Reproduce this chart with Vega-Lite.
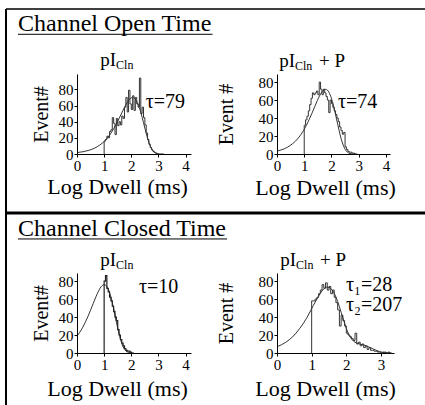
{
  "$schema": "https://vega.github.io/schema/vega-lite/v6.json",
  "padding": {"left": 4, "top": 8, "right": 0, "bottom": 0},
  "background": "white",
  "config": {
    "view": {"stroke": null},
    "font": "Liberation Serif",
    "axis": {"grid": false, "domainColor": "#000", "tickColor": "#000", "labelColor": "#000", "titleColor": "#000", "labelFont": "Liberation Serif", "titleFont": "Liberation Serif", "labelFontSize": 15, "titleFontSize": 21, "titleFontWeight": "normal", "tickSize": 3, "domainWidth": 1, "labelPadding": 1, "labelOverlap": false, "labelBound": false, "tickCount": 12, "format": "d"},
    "text": {"font": "Liberation Serif", "color": "#000"}
  },
  "datasets": {
    "tl_hist": [{"x":1.0,"n":0},{"x":1.0,"n":16},{"x":1.05,"n":18},{"x":1.1,"n":22},{"x":1.15,"n":20},{"x":1.2,"n":28},{"x":1.25,"n":30},{"x":1.3,"n":45},{"x":1.35,"n":38},{"x":1.4,"n":24},{"x":1.45,"n":44},{"x":1.5,"n":35},{"x":1.55,"n":40},{"x":1.6,"n":36},{"x":1.65,"n":47},{"x":1.7,"n":44},{"x":1.75,"n":58},{"x":1.8,"n":70},{"x":1.85,"n":52},{"x":1.9,"n":79},{"x":1.95,"n":62},{"x":2.0,"n":55},{"x":2.05,"n":72},{"x":2.1,"n":54},{"x":2.15,"n":70},{"x":2.2,"n":62},{"x":2.25,"n":58},{"x":2.3,"n":94},{"x":2.35,"n":50},{"x":2.4,"n":58},{"x":2.45,"n":45},{"x":2.5,"n":36},{"x":2.55,"n":26},{"x":2.6,"n":18},{"x":2.65,"n":12},{"x":2.7,"n":8},{"x":2.75,"n":5},{"x":2.8,"n":3},{"x":2.85,"n":2},{"x":2.9,"n":1},{"x":2.95,"n":0},{"x":3.0,"n":0}],
    "tl_fit": [{"x":0,"n":1.7},{"x":0.25,"n":3.0},{"x":0.45,"n":4.7},{"x":0.65,"n":7.3},{"x":0.85,"n":11.3},{"x":1.05,"n":17.2},{"x":1.25,"n":25.7},{"x":1.45,"n":37.2},{"x":1.65,"n":50.9},{"x":1.75,"n":57.8},{"x":1.85,"n":63.8},{"x":1.95,"n":68.3},{"x":2.05,"n":70},{"x":2.15,"n":68},{"x":2.25,"n":61.8},{"x":2.35,"n":51.7},{"x":2.45,"n":38.8},{"x":2.55,"n":25.5},{"x":2.65,"n":14.1},{"x":2.75,"n":6.3},{"x":2.85,"n":2.2},{"x":2.95,"n":0.5},{"x":3.05,"n":0.1},{"x":3.2,"n":0}],
    "tr_hist": [{"x":1.0,"n":0},{"x":1.0,"n":32},{"x":1.05,"n":38},{"x":1.1,"n":42},{"x":1.15,"n":48},{"x":1.2,"n":55},{"x":1.25,"n":62},{"x":1.3,"n":68},{"x":1.35,"n":66},{"x":1.4,"n":68},{"x":1.45,"n":70},{"x":1.5,"n":66},{"x":1.55,"n":80},{"x":1.6,"n":72},{"x":1.65,"n":66},{"x":1.7,"n":72},{"x":1.75,"n":68},{"x":1.8,"n":64},{"x":1.85,"n":60},{"x":1.9,"n":46},{"x":1.95,"n":60},{"x":2.0,"n":56},{"x":2.05,"n":52},{"x":2.1,"n":48},{"x":2.15,"n":44},{"x":2.2,"n":40},{"x":2.25,"n":36},{"x":2.3,"n":30},{"x":2.35,"n":26},{"x":2.4,"n":22},{"x":2.45,"n":24},{"x":2.5,"n":8},{"x":2.55,"n":5},{"x":2.6,"n":3},{"x":2.65,"n":2},{"x":2.7,"n":2},{"x":2.75,"n":1},{"x":2.8,"n":1},{"x":2.85,"n":0},{"x":2.9,"n":0}],
    "tr_fit": [{"x":0,"n":3.2},{"x":0.18,"n":4.8},{"x":0.38,"n":7.5},{"x":0.58,"n":11.6},{"x":0.78,"n":17.7},{"x":0.98,"n":26.4},{"x":1.18,"n":38.2},{"x":1.38,"n":52.3},{"x":1.48,"n":59.4},{"x":1.58,"n":65.7},{"x":1.68,"n":70.3},{"x":1.78,"n":72},{"x":1.88,"n":70},{"x":1.98,"n":63.6},{"x":2.08,"n":53.1},{"x":2.18,"n":39.9},{"x":2.28,"n":26.2},{"x":2.38,"n":14.5},{"x":2.48,"n":6.5},{"x":2.58,"n":2.2},{"x":2.68,"n":0.6},{"x":2.78,"n":0.1},{"x":2.95,"n":0}],
    "bl_hist": [{"x":1.0,"n":0},{"x":1.0,"n":80},{"x":1.05,"n":86},{"x":1.1,"n":72},{"x":1.15,"n":68},{"x":1.2,"n":62},{"x":1.25,"n":58},{"x":1.3,"n":52},{"x":1.35,"n":46},{"x":1.4,"n":40},{"x":1.45,"n":36},{"x":1.5,"n":26},{"x":1.55,"n":20},{"x":1.6,"n":15},{"x":1.65,"n":11},{"x":1.7,"n":8},{"x":1.75,"n":5},{"x":1.8,"n":3},{"x":1.85,"n":2},{"x":1.9,"n":2},{"x":1.95,"n":1},{"x":2.0,"n":0},{"x":2.05,"n":0}],
    "bl_fit": [{"x":0,"n":18.7},{"x":0.2,"n":27.9},{"x":0.4,"n":40.4},{"x":0.6,"n":55.3},{"x":0.7,"n":62.7},{"x":0.8,"n":69.3},{"x":0.9,"n":74.2},{"x":1.0,"n":76},{"x":1.1,"n":73.9},{"x":1.2,"n":67.1},{"x":1.3,"n":56.1},{"x":1.4,"n":42.1},{"x":1.5,"n":27.7},{"x":1.6,"n":15.4},{"x":1.7,"n":6.9},{"x":1.8,"n":2.4},{"x":1.9,"n":0.6},{"x":2.0,"n":0.1},{"x":2.1,"n":0}],
    "br_hist": [{"x":1.0,"n":0},{"x":1.0,"n":58},{"x":1.05,"n":58},{"x":1.1,"n":60},{"x":1.15,"n":62},{"x":1.2,"n":66},{"x":1.25,"n":70},{"x":1.3,"n":76},{"x":1.35,"n":72},{"x":1.4,"n":78},{"x":1.45,"n":70},{"x":1.5,"n":74},{"x":1.55,"n":66},{"x":1.6,"n":70},{"x":1.65,"n":62},{"x":1.7,"n":56},{"x":1.75,"n":48},{"x":1.8,"n":30},{"x":1.85,"n":42},{"x":1.9,"n":36},{"x":1.95,"n":30},{"x":2.0,"n":22},{"x":2.05,"n":20},{"x":2.1,"n":18},{"x":2.15,"n":16},{"x":2.2,"n":14},{"x":2.25,"n":22},{"x":2.3,"n":10},{"x":2.35,"n":12},{"x":2.4,"n":8},{"x":2.45,"n":10},{"x":2.5,"n":6},{"x":2.55,"n":8},{"x":2.6,"n":4},{"x":2.65,"n":6},{"x":2.7,"n":3},{"x":2.75,"n":3},{"x":2.8,"n":2},{"x":2.85,"n":2},{"x":2.9,"n":1},{"x":2.95,"n":1},{"x":3.0,"n":0},{"x":3.05,"n":1},{"x":3.1,"n":1},{"x":3.15,"n":0},{"x":3.2,"n":1},{"x":3.25,"n":0},{"x":3.3,"n":0}],
    "br_fit": [{"x":0,"n":7},{"x":0.25,"n":11.8},{"x":0.45,"n":18},{"x":0.65,"n":27},{"x":0.85,"n":38.5},{"x":1.05,"n":53},{"x":1.15,"n":60},{"x":1.25,"n":66.4},{"x":1.35,"n":71.3},{"x":1.45,"n":73.3},{"x":1.55,"n":71.9},{"x":1.65,"n":66.4},{"x":1.75,"n":57.3},{"x":1.85,"n":45.2},{"x":1.95,"n":33.1},{"x":2.05,"n":22.5},{"x":2.15,"n":15.6},{"x":2.25,"n":12},{"x":2.35,"n":10.5},{"x":2.45,"n":9.3},{"x":2.55,"n":8.4},{"x":2.65,"n":6.6},{"x":2.75,"n":5},{"x":2.85,"n":3.2},{"x":2.95,"n":1.6},{"x":3.05,"n":0.7},{"x":3.15,"n":0.24},{"x":3.3,"n":0}]
  },
  "columns": 2,
  "spacing": {"row": 0, "column": 86},
  "bounds": "flush",
  "concat": [
    {
      "width": 114, "height": 65,
      "data": {"values": [{"section": "Channel Open Time"}]},
      "layer": [
        {"mark": {"type": "rule", "color": "#000", "strokeWidth": 1.5}, "encoding": {"x": {"datum": -62.3, "type": "quantitative", "scale": {"domain": [0, 100]}, "axis": null}, "x2": {"datum": 306.1}, "y": {"datum": 1, "type": "quantitative", "scale": {"domain": [0, 1]}, "axis": null}}},
        {"mark": {"type": "rule", "color": "#000", "strokeWidth": 2}, "encoding": {"x": {"datum": -62.3, "type": "quantitative"}}},
        {"mark": {"type": "text", "align": "left", "baseline": "alphabetic", "fontSize": 24}, "encoding": {"x": {"datum": -51.75, "type": "quantitative"}, "y": {"datum": 0.6615, "type": "quantitative"}, "text": {"field": "section"}}},
        {"mark": {"type": "rule", "color": "#000", "strokeWidth": 1}, "encoding": {"x": {"datum": -51.75, "type": "quantitative"}, "x2": {"datum": 118.9}, "y": {"datum": 0.611, "type": "quantitative"}}}
      ]
    },
    {"width": 113, "height": 65, "data": {"values": []}, "mark": "point"},
    {
      "width": 114, "height": 80,
      "layer": [
        {"data": {"name": "tl_fit"}, "mark": {"type": "line", "interpolate": "monotone", "color": "#000", "strokeWidth": 0.8},
         "encoding": {
           "x": {"field": "x", "type": "quantitative", "scale": {"domain": [0, 4.2], "nice": false}, "axis": {"values": [0,1,2,3,4], "tickCount": 12, "format": "d", "title": "Log Dwell (ms)", "labelFlush": false, "labelOverlap": false, "titlePadding": 3, "titleFontSize": 22, "titleX": 40}},
           "y": {"field": "n", "type": "quantitative", "scale": {"domain": [0, 99], "nice": false}, "axis": {"values": [0,20,40,60,80], "tickCount": 12, "format": "d", "title": "Event#", "labelOverlap": false, "titlePadding": 7, "titleFontSize": 20}}
         }},
        {"data": {"name": "tl_hist"}, "mark": {"type": "line", "interpolate": "step-after", "color": "#333", "strokeWidth": 1}, "encoding": {"x": {"field": "x", "type": "quantitative"}, "y": {"field": "n", "type": "quantitative"}}},
        {"data": {"values": [{}]}, "mark": {"type": "rule", "color": "#000", "strokeWidth": 2}, "encoding": {"x": {"datum": -2.616, "type": "quantitative"}}},
        {"data": {"values": [{"t": "τ=79"}]}, "mark": {"type": "text", "align": "left", "baseline": "alphabetic", "fontSize": 20}, "encoding": {"x": {"datum": 2.53, "type": "quantitative"}, "y": {"datum": 57, "type": "quantitative"}, "text": {"field": "t"}}},
        {"data": {"values": [{"t": "pI"}]}, "mark": {"type": "text", "align": "right", "baseline": "alphabetic", "fontSize": 19}, "encoding": {"x": {"datum": 1.44, "type": "quantitative"}, "y": {"datum": 109, "type": "quantitative"}, "text": {"field": "t"}}},
        {"data": {"values": [{"t": "Cln"}]}, "mark": {"type": "text", "align": "left", "baseline": "alphabetic", "fontSize": 12}, "encoding": {"x": {"datum": 1.44, "type": "quantitative"}, "y": {"datum": 105, "type": "quantitative"}, "text": {"field": "t"}}}
      ]
    },
    {
      "width": 113, "height": 80,
      "layer": [
        {"data": {"name": "tr_fit"}, "mark": {"type": "line", "interpolate": "monotone", "color": "#000", "strokeWidth": 0.8},
         "encoding": {
           "x": {"field": "x", "type": "quantitative", "scale": {"domain": [0, 4.15], "nice": false}, "axis": {"values": [0,1,2,3,4], "tickCount": 12, "format": "d", "title": "Log Dwell (ms)", "labelFlush": false, "labelOverlap": false, "titlePadding": 4, "titleFontSize": 22, "titleX": 48}},
           "y": {"field": "n", "type": "quantitative", "scale": {"domain": [0, 89], "nice": false}, "axis": {"values": [0,20,40,60,80], "tickCount": 12, "format": "d", "title": "Event #", "labelOverlap": false, "titlePadding": 22, "titleFontSize": 20}}
         }},
        {"data": {"name": "tr_hist"}, "mark": {"type": "line", "interpolate": "step-after", "color": "#333", "strokeWidth": 1}, "encoding": {"x": {"field": "x", "type": "quantitative"}, "y": {"field": "n", "type": "quantitative"}}},
        {"data": {"values": [{"t": "τ=74"}]}, "mark": {"type": "text", "align": "left", "baseline": "alphabetic", "fontSize": 20}, "encoding": {"x": {"datum": 2.24, "type": "quantitative"}, "y": {"datum": 51, "type": "quantitative"}, "text": {"field": "t"}}},
        {"data": {"values": [{"t": "pI"}]}, "mark": {"type": "text", "align": "right", "baseline": "alphabetic", "fontSize": 19}, "encoding": {"x": {"datum": 0.66, "type": "quantitative"}, "y": {"datum": 96.8, "type": "quantitative"}, "text": {"field": "t"}}},
        {"data": {"values": [{"t": "Cln"}]}, "mark": {"type": "text", "align": "left", "baseline": "alphabetic", "fontSize": 12}, "encoding": {"x": {"datum": 0.66, "type": "quantitative"}, "y": {"datum": 93.4, "type": "quantitative"}, "text": {"field": "t"}}},
        {"data": {"values": [{"t": "+  P"}]}, "mark": {"type": "text", "align": "left", "baseline": "alphabetic", "fontSize": 19}, "encoding": {"x": {"datum": 1.54, "type": "quantitative"}, "y": {"datum": 96.8, "type": "quantitative"}, "text": {"field": "t"}}}
      ]
    },
    {
      "width": 114, "height": 119,
      "data": {"values": [{"section": "Channel Closed Time"}]},
      "layer": [
        {"mark": {"type": "rule", "color": "#000", "strokeWidth": 3}, "encoding": {"x": {"datum": -62.3, "type": "quantitative", "scale": {"domain": [0, 100]}, "axis": null}, "x2": {"datum": 306.1}, "y": {"datum": 0.504, "type": "quantitative", "scale": {"domain": [0, 1]}, "axis": null}}},
        {"mark": {"type": "rule", "color": "#000", "strokeWidth": 2}, "encoding": {"x": {"datum": -62.3, "type": "quantitative"}}},
        {"mark": {"type": "text", "align": "left", "baseline": "alphabetic", "fontSize": 24}, "encoding": {"x": {"datum": -51.75, "type": "quantitative"}, "y": {"datum": 0.311, "type": "quantitative"}, "text": {"field": "section"}}},
        {"mark": {"type": "rule", "color": "#000", "strokeWidth": 1}, "encoding": {"x": {"datum": -51.75, "type": "quantitative"}, "x2": {"datum": 131.6}, "y": {"datum": 0.286, "type": "quantitative"}}}
      ]
    },
    {"width": 113, "height": 119, "data": {"values": []}, "mark": "point"},
    {
      "width": 114, "height": 80,
      "layer": [
        {"data": {"name": "bl_fit"}, "mark": {"type": "line", "interpolate": "monotone", "color": "#000", "strokeWidth": 0.8},
         "encoding": {
           "x": {"field": "x", "type": "quantitative", "scale": {"domain": [0, 4.2], "nice": false}, "axis": {"values": [0,1,2,3,4], "tickCount": 12, "format": "d", "title": "Log Dwell (ms)", "labelFlush": false, "labelOverlap": false, "titlePadding": 6, "titleFontSize": 22, "titleX": 40}},
           "y": {"field": "n", "type": "quantitative", "scale": {"domain": [0, 89], "nice": false}, "axis": {"values": [0,20,40,60,80], "tickCount": 12, "format": "d", "title": "Event#", "labelOverlap": false, "titlePadding": 7, "titleFontSize": 20}}
         }},
        {"data": {"name": "bl_hist"}, "mark": {"type": "line", "interpolate": "step-after", "color": "#222", "strokeWidth": 1.2}, "encoding": {"x": {"field": "x", "type": "quantitative"}, "y": {"field": "n", "type": "quantitative"}}},
        {"data": {"values": [{}]}, "mark": {"type": "rule", "color": "#000", "strokeWidth": 2}, "encoding": {"x": {"datum": -2.616, "type": "quantitative"}, "y": {"datum": -62, "type": "quantitative"}, "y2": {"datum": 89}}},
        {"data": {"values": [{"t": "τ=10"}]}, "mark": {"type": "text", "align": "left", "baseline": "alphabetic", "fontSize": 20}, "encoding": {"x": {"datum": 2.28, "type": "quantitative"}, "y": {"datum": 66.7, "type": "quantitative"}, "text": {"field": "t"}}},
        {"data": {"values": [{"t": "pI"}]}, "mark": {"type": "text", "align": "right", "baseline": "alphabetic", "fontSize": 19}, "encoding": {"x": {"datum": 1.44, "type": "quantitative"}, "y": {"datum": 96.7, "type": "quantitative"}, "text": {"field": "t"}}},
        {"data": {"values": [{"t": "Cln"}]}, "mark": {"type": "text", "align": "left", "baseline": "alphabetic", "fontSize": 12}, "encoding": {"x": {"datum": 1.44, "type": "quantitative"}, "y": {"datum": 93.3, "type": "quantitative"}, "text": {"field": "t"}}}
      ]
    },
    {
      "width": 117, "height": 80,
      "layer": [
        {"data": {"name": "br_fit"}, "mark": {"type": "line", "interpolate": "monotone", "color": "#000", "strokeWidth": 0.8},
         "encoding": {
           "x": {"field": "x", "type": "quantitative", "scale": {"domain": [0, 3.375], "nice": false}, "axis": {"values": [0,1,2,3], "tickCount": 12, "format": "d", "title": "Log Dwell (ms)", "labelFlush": false, "labelOverlap": false, "titlePadding": 6, "titleFontSize": 22, "titleX": 48}},
           "y": {"field": "n", "type": "quantitative", "scale": {"domain": [0, 89], "nice": false}, "axis": {"values": [0,20,40,60,80], "tickCount": 12, "format": "d", "title": "Event #", "labelOverlap": false, "titlePadding": 22, "titleFontSize": 20}}
         }},
        {"data": {"name": "br_hist"}, "mark": {"type": "line", "interpolate": "step-after", "color": "#333", "strokeWidth": 1}, "encoding": {"x": {"field": "x", "type": "quantitative"}, "y": {"field": "n", "type": "quantitative"}}},
        {"data": {"values": [{"t": "τ₁=28"}]}, "mark": {"type": "text", "align": "left", "baseline": "alphabetic", "fontSize": 20}, "encoding": {"x": {"datum": 1.99, "type": "quantitative"}, "y": {"datum": 68.9, "type": "quantitative"}, "text": {"field": "t"}}},
        {"data": {"values": [{"t": "τ₂=207"}]}, "mark": {"type": "text", "align": "left", "baseline": "alphabetic", "fontSize": 20}, "encoding": {"x": {"datum": 1.99, "type": "quantitative"}, "y": {"datum": 46.7, "type": "quantitative"}, "text": {"field": "t"}}},
        {"data": {"values": [{"t": "pI"}]}, "mark": {"type": "text", "align": "right", "baseline": "alphabetic", "fontSize": 19}, "encoding": {"x": {"datum": 0.55, "type": "quantitative"}, "y": {"datum": 96.7, "type": "quantitative"}, "text": {"field": "t"}}},
        {"data": {"values": [{"t": "Cln"}]}, "mark": {"type": "text", "align": "left", "baseline": "alphabetic", "fontSize": 12}, "encoding": {"x": {"datum": 0.55, "type": "quantitative"}, "y": {"datum": 93.3, "type": "quantitative"}, "text": {"field": "t"}}},
        {"data": {"values": [{"t": "+  P"}]}, "mark": {"type": "text", "align": "left", "baseline": "alphabetic", "fontSize": 19}, "encoding": {"x": {"datum": 1.24, "type": "quantitative"}, "y": {"datum": 96.7, "type": "quantitative"}, "text": {"field": "t"}}}
      ]
    }
  ]
}
